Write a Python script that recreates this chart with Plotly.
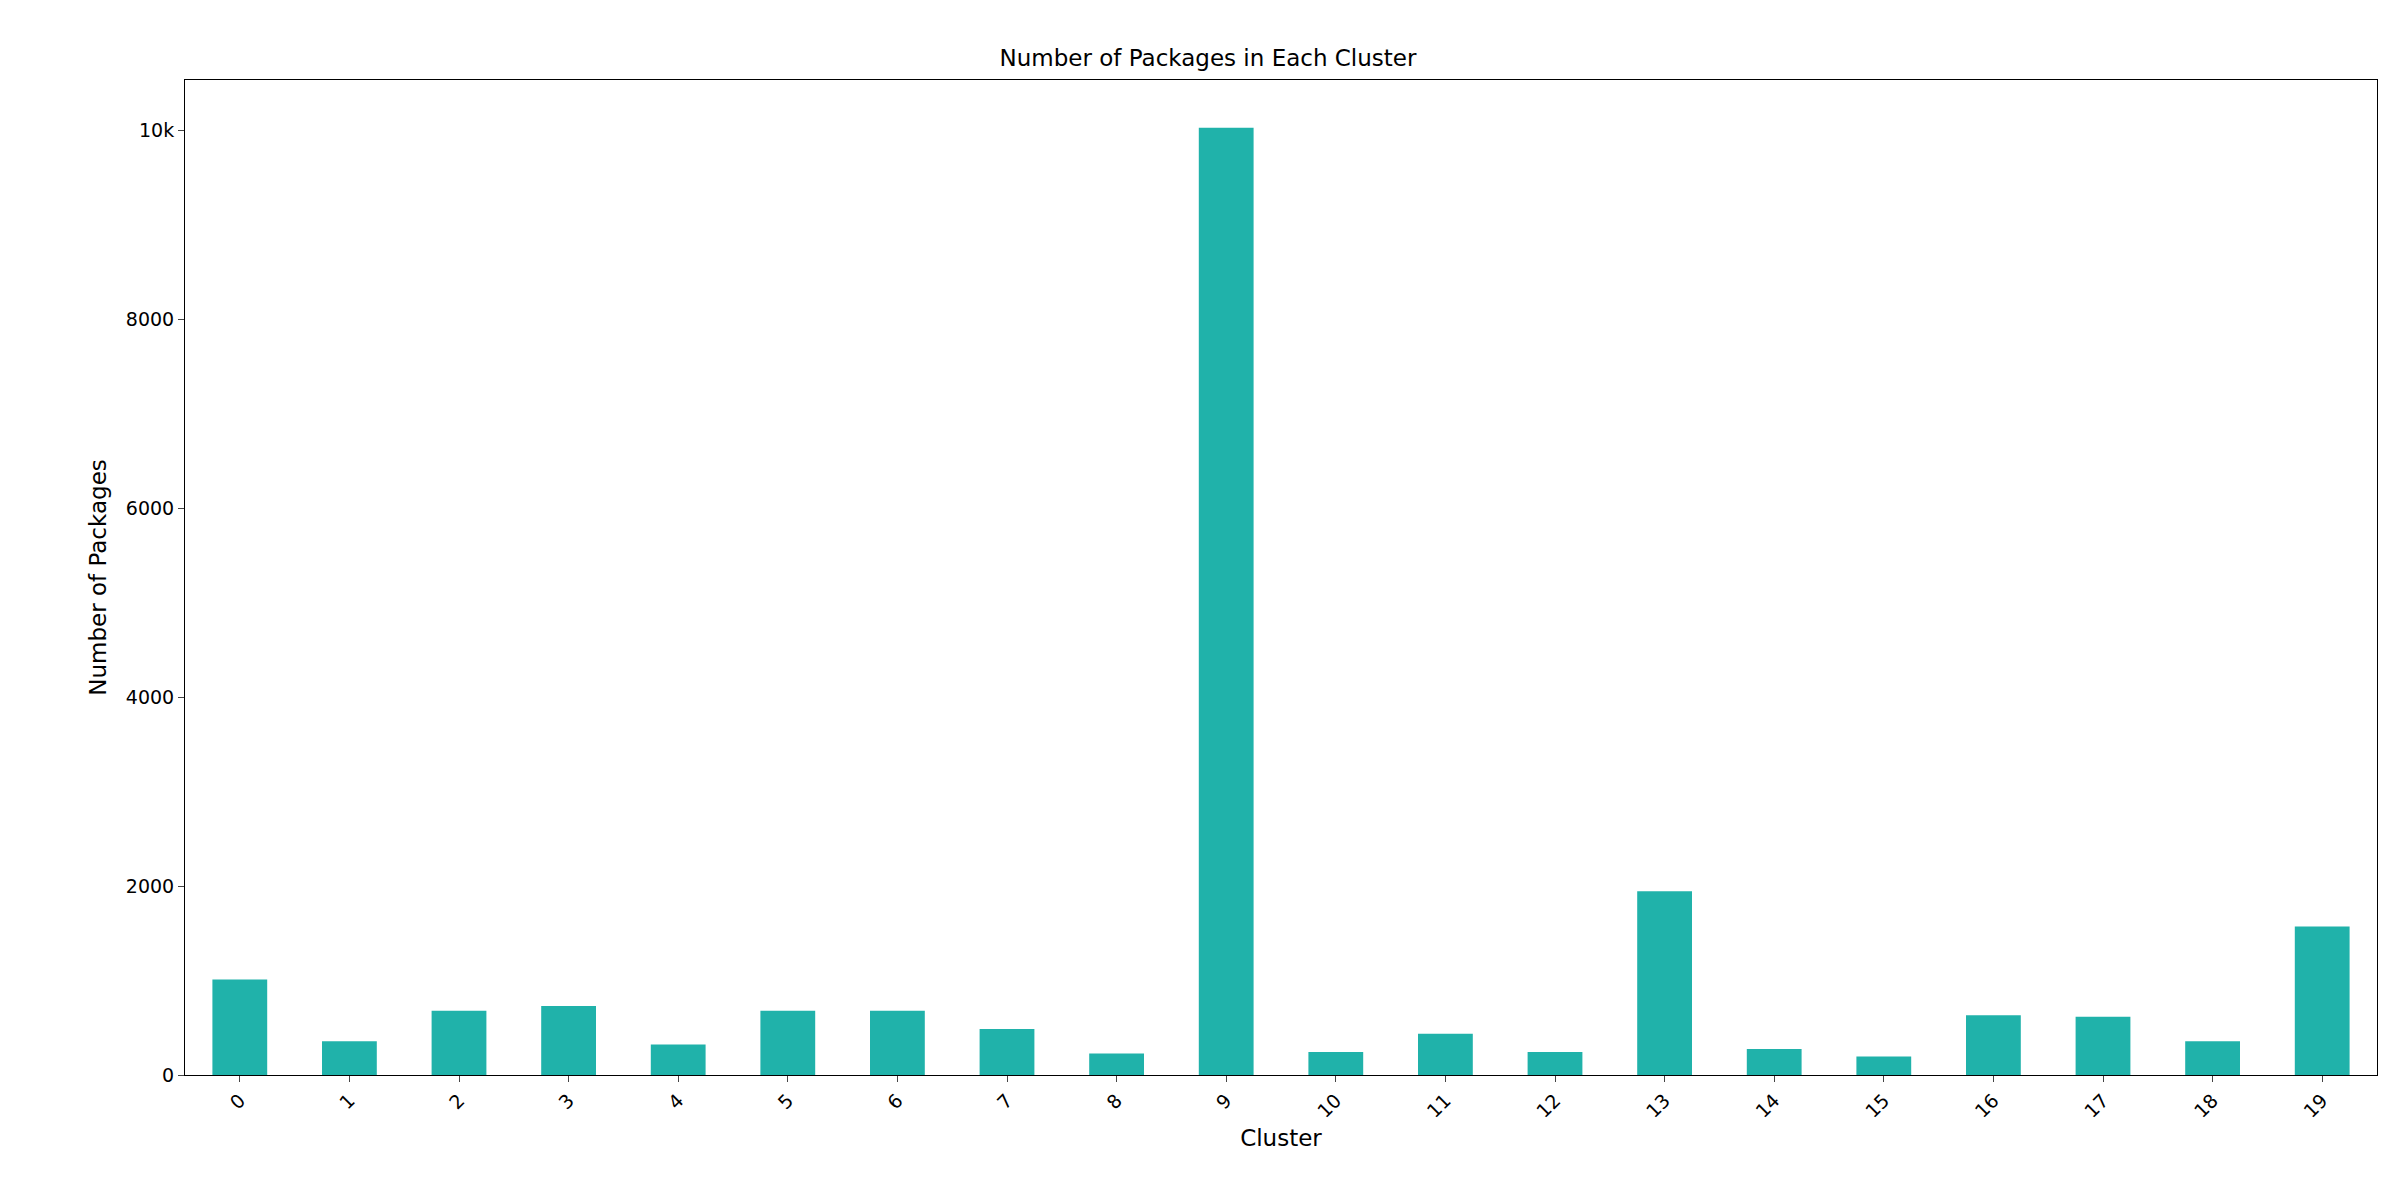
import plotly.graph_objects as go

clusters = [str(i) for i in range(20)]
counts = [1010, 357, 680, 730, 324, 680, 680, 486, 227, 10030, 243, 437, 243, 1945, 275, 195, 632, 616, 357, 1572]

fig = go.Figure(go.Bar(x=list(range(20)), y=counts, width=0.5, marker_color="#20B2AA", marker_line_width=0))
fig.update_layout(
    width=2400, height=1200, plot_bgcolor="white", paper_bgcolor="white",
    margin=dict(l=177, r=31, t=72, b=133),
    font=dict(family="DejaVu Sans", size=19, color="black"),
    title=dict(text="Number of Packages in Each Cluster", x=0.5, xanchor="center", y=0.965, font=dict(size=23)),
    showlegend=False,
)
fig.update_xaxes(range=[-0.5, 19.5], tickmode="array", tickvals=list(range(20)), ticktext=clusters,
                 tickangle=-45, showline=True, linecolor="black", mirror=True, ticks="outside",
                 ticklen=6, showgrid=False, title=dict(text="Cluster", standoff=8))
fig.update_yaxes(range=[0, 10535], tickvals=[0, 2000, 4000, 6000, 8000, 10000], showline=True,
                 linecolor="black", mirror=True, ticks="outside", ticklen=6, showgrid=False,
                 zeroline=False, title=dict(text="Number of Packages", standoff=12))
fig.write_html("out.html")
